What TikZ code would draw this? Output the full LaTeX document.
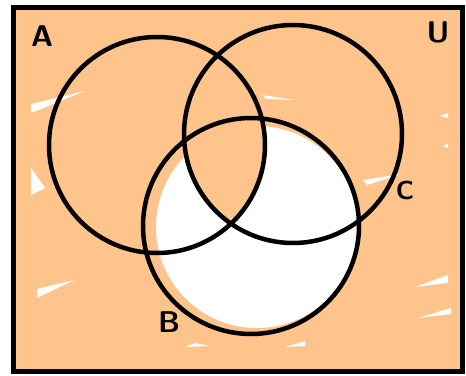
\documentclass[tikz,border=0pt]{standalone}
\usetikzlibrary{positioning}
\definecolor{peach}{RGB}{255,196,140}
\tikzset{
  frame/.style={draw, line width=5pt},
  set/.style={draw, line width=4.5pt},
  gap/.style={fill=white},
  lbl/.style={font=\fontsize{30}{30}\selectfont\sffamily\bfseries, inner sep=0pt},
}
\begin{document}
\begin{tikzpicture}[x=1pt, y=-1pt]
    \useasboundingbox (0,0) rectangle (466,375);
    \coordinate (cA) at (157,145);
    \coordinate (cB) at (251,226);
    \coordinate (cC) at (293,134);
    % shading: everything but B minus (A and C)
    \fill[peach] (13,7) rectangle (462,371);
    \fill[white] (257,227) circle (101);
    \begin{scope}
      \clip (cA) circle (108);
      \fill[peach] (cC) circle (109);
    \end{scope}
    % gaps left by the scribble
    \foreach \xa/\ya/\xb/\yb/\xc/\yc in {31/104/85/91/31/113, 31/168/45/188/31/195,
        37/289/74/280/37/298, 363/180/402/174/367/185, 415/287/448/275/448/283,
        418/318/451/308/451/314, 185/347/210/346/195/343, 285/347/305/341/305/346,
        262/95/295/100/266/99, 440/116/448/113/448/118, 443/146/448/143/448/148}
      \fill[gap] (\xa,\ya) -- (\xb,\yb) -- (\xc,\yc) -- cycle;
    \draw[frame] (13,7) rectangle (462,371);
    \draw[set] (cA) circle (108);
    \draw[set] (cC) circle (109);
    \draw[set] (cB) circle (108);
    \node[lbl] (la) at (42,36) {A};
    \node[lbl] (lu) at (438,32) {U};
    \node[lbl, font=\fontsize{26}{26}\selectfont\sffamily\bfseries] (lc) at (405,190) {C};
    \node[lbl] (lb) at (169,322) {B};
\end{tikzpicture}
\end{document}
